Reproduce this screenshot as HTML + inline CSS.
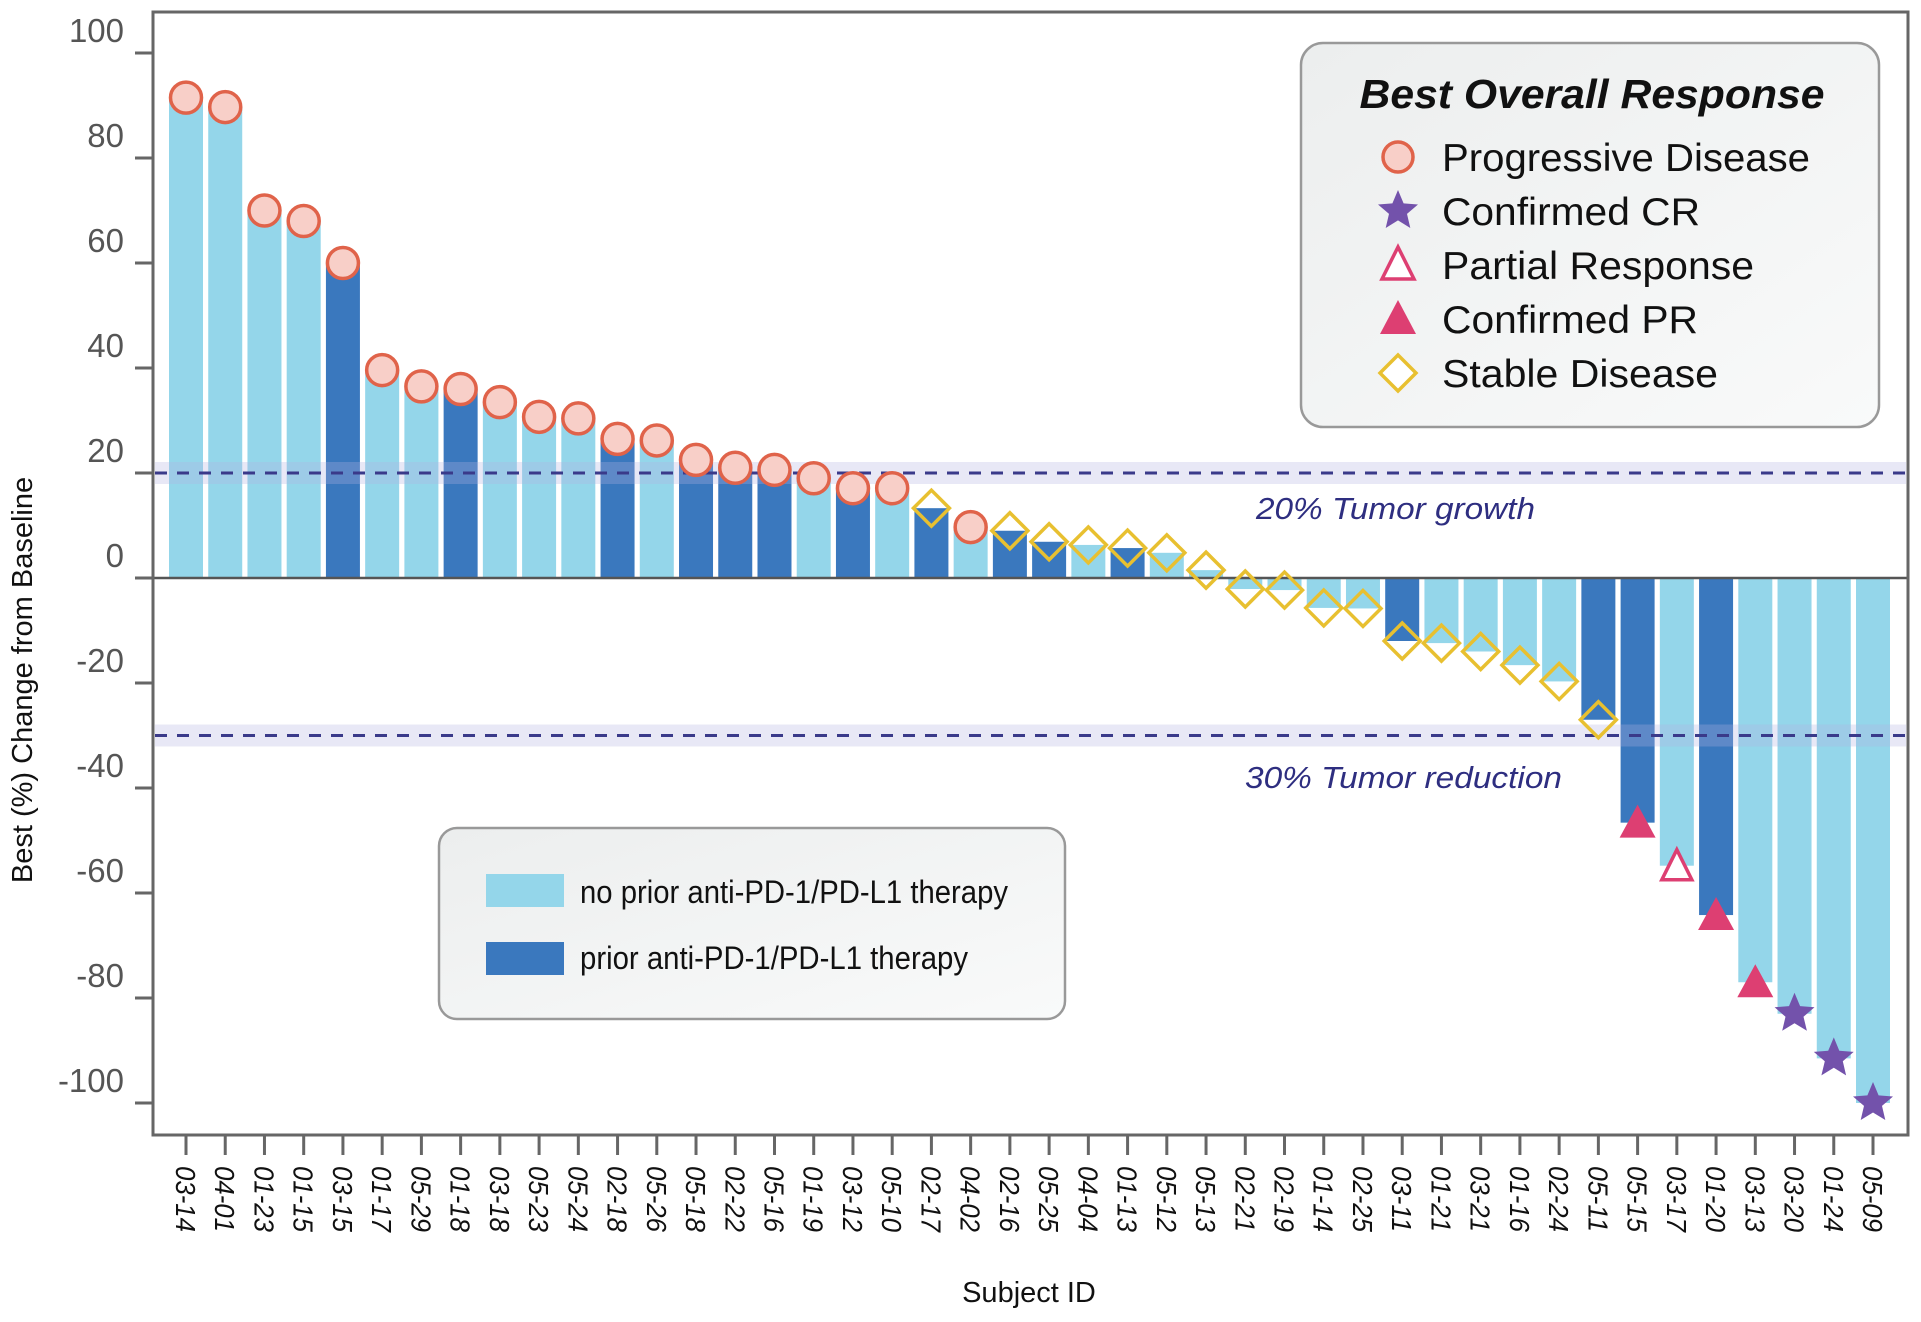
<!DOCTYPE html>
<html><head><meta charset="utf-8"><style>
html,body{margin:0;padding:0;background:#fff;}
svg{display:block;font-family:"Liberation Sans",Arial,sans-serif;}
</style></head><body>
<svg id="chart" width="1921" height="1322" viewBox="0 0 1921 1322" xmlns="http://www.w3.org/2000/svg">
<defs>
<linearGradient id="lg" x1="0" y1="0" x2="1" y2="1"><stop offset="0" stop-color="#eceeee"/><stop offset="1" stop-color="#f9fafa"/></linearGradient>
</defs>
<g id="bars"></g>
<g id="bands"></g>
<g id="markers"></g>
<rect x="153" y="12" width="1755" height="1123" fill="none" stroke="#666" stroke-width="3"/>
<g id="yaxis"></g>
<g id="xaxis"></g>
<text x="32" y="680" transform="rotate(-90 32 680)" text-anchor="middle" font-size="29" fill="#111">Best (%) Change from Baseline</text>
<text x="1029" y="1302" text-anchor="middle" font-size="29" fill="#111">Subject ID</text>
<text x="1256" y="519" font-size="31" font-style="italic" fill="#2e2e80" textLength="279" lengthAdjust="spacingAndGlyphs">20% Tumor growth</text>
<text x="1245" y="788" font-size="31" font-style="italic" fill="#2e2e80" textLength="317" lengthAdjust="spacingAndGlyphs">30% Tumor reduction</text>

<g>
<rect x="1301" y="43" width="578" height="384" rx="22" fill="url(#lg)" stroke="#999" stroke-width="2.5"/>
<text x="1592" y="108" text-anchor="middle" font-size="41" font-weight="bold" font-style="italic" fill="#111" textLength="465" lengthAdjust="spacingAndGlyphs">Best Overall Response</text>
<g><circle cx="1398" cy="157" r="15" fill="#f8cfc8" stroke="#e0634a" stroke-width="3.5"/><text x="1442" y="171" font-size="39" fill="#111" textLength="368" lengthAdjust="spacingAndGlyphs">Progressive Disease</text></g>
<g><polygon id="lstar" fill="#7352ab"/><text x="1442" y="225" font-size="39" fill="#111" textLength="258" lengthAdjust="spacingAndGlyphs">Confirmed CR</text></g>
<g><polygon points="1398,247 1414,279 1382,279" fill="#fff" stroke="#dd3f72" stroke-width="3.5"/><text x="1442" y="279" font-size="39" fill="#111" textLength="312" lengthAdjust="spacingAndGlyphs">Partial Response</text></g>
<g><polygon points="1398,300 1416,334 1380,334" fill="#dd3f72"/><text x="1442" y="333" font-size="39" fill="#111" textLength="256" lengthAdjust="spacingAndGlyphs">Confirmed PR</text></g>
<g><polygon points="1398,355 1416,373 1398,391 1380,373" fill="#fff" stroke="#e8c030" stroke-width="3.5"/><text x="1442" y="387" font-size="39" fill="#111" textLength="276" lengthAdjust="spacingAndGlyphs">Stable Disease</text></g>
</g>

<g>
<rect x="439" y="828" width="626" height="191" rx="18" fill="url(#lg)" stroke="#999" stroke-width="2.5"/>
<rect x="486" y="874" width="78" height="33" fill="#94d6ea"/>
<text x="580" y="903" font-size="32" fill="#111" textLength="428" lengthAdjust="spacingAndGlyphs">no prior anti-PD-1/PD-L1 therapy</text>
<rect x="486" y="942" width="78" height="33" fill="#3a78be"/>
<text x="580" y="969" font-size="32" fill="#111" textLength="388" lengthAdjust="spacingAndGlyphs">prior anti-PD-1/PD-L1 therapy</text>
</g>
</svg>
<script>
const subjects = ["03-14","04-01","01-23","01-15","03-15","01-17","05-29","01-18","03-18","05-23","05-24","02-18","05-26","05-18","02-22","05-16","01-19","03-12","05-10","02-17","04-02","02-16","05-25","04-04","01-13","05-12","05-13","02-21","02-19","01-14","02-25","03-11","01-21","03-21","01-16","02-24","05-11","05-15","03-17","01-20","03-13","03-20","01-24","05-09"];
const changes = [91.5,89.7,70,68,60,39.6,36.5,36,33.5,30.7,30.4,26.5,26.2,22.5,21,20.6,19,17.1,17.1,13.3,9.7,9,6.9,6.3,5.7,4.8,1.5,-2.1,-2.3,-5.7,-5.8,-12,-12.4,-14,-16.6,-19.7,-27,-46.6,-54.8,-64.2,-77,-83,-91.5,-100];
const priorTherapy = [0,0,0,0,1,0,0,1,0,0,0,1,0,1,1,1,0,1,0,1,0,1,1,0,1,0,0,0,0,0,0,1,0,0,0,0,1,1,0,1,0,0,0,0];
const responses = ["PD","PD","PD","PD","PD","PD","PD","PD","PD","PD","PD","PD","PD","PD","PD","PD","PD","PD","PD","SD","PD","SD","SD","SD","SD","SD","SD","SD","SD","SD","SD","SD","SD","SD","SD","SD","SD","CPR","PR","CPR","CPR","CR","CR","CR"];
const yTicks = [100,80,60,40,20,0,-20,-40,-60,-80,-100];
const thresholds = [20,-30];

const NS="http://www.w3.org/2000/svg";
const y0=578, pxPerUnit=5.25, x0=186, step=(1873-186)/43, bw=34;
const yScale=v=>y0-v*pxPerUnit;
const xScale=i=>x0+i*step;
function mk(tag,attrs,parent){const e=document.createElementNS(NS,tag);for(const k in attrs)e.setAttribute(k,attrs[k]);parent.appendChild(e);return e;}
function starPts(cx,cy,R){const r=R*0.45;let p=[];for(let k=0;k<10;k++){const a=-Math.PI/2+k*Math.PI/5;const rr=k%2?r:R;p.push((cx+rr*Math.cos(a)).toFixed(1)+","+(cy+rr*Math.sin(a)).toFixed(1));}return p.join(" ");}
document.getElementById('lstar').setAttribute('points',starPts(1398,211,21));

const gb=document.getElementById('bars'), gm=document.getElementById('markers'), gband=document.getElementById('bands');
const gy=document.getElementById('yaxis'), gx=document.getElementById('xaxis');

changes.forEach((v,i)=>{
  const x=xScale(i), y=yScale(v);
  const r=mk('rect',{x:x-bw/2,y:Math.min(y,y0),width:bw,height:Math.abs(y-y0),fill:priorTherapy[i]?'#3a78be':'#94d6ea'},gb);
  
  
  const t=responses[i]; let m;
  if(t==='PD') m=mk('circle',{cx:x,cy:y,r:15.5,fill:'#f8cfc8',stroke:'#e0634a','stroke-width':3.5},gm);
  else if(t==='SD') m=mk('polygon',{points:`${x},${y-18} ${x+18},${y} ${x},${y+18} ${x-18},${y}`,fill:'none',stroke:'#e8c030','stroke-width':3.5},gm);
  else if(t==='PR') m=mk('polygon',{points:`${x},${y-16} ${x+15},${y+14} ${x-15},${y+14}`,fill:'#fff',stroke:'#dd3f72','stroke-width':3.5},gm);
  else if(t==='CPR') m=mk('polygon',{points:`${x},${y-18} ${x+18},${y+15} ${x-18},${y+15}`,fill:'#dd3f72'},gm);
  else m=mk('polygon',{points:starPts(x,y,21),fill:'#7352ab'},gm);
  
  
  const tk=mk('line',{x1:x,y1:1135,x2:x,y2:1155,stroke:'#666','stroke-width':3},gx);
  
  
  const lb=mk('text',{x:0,y:0,transform:`translate(${x-10},1166) rotate(90)`,'font-size':28,'font-style':'italic',fill:'#111',textLength:66,lengthAdjust:'spacingAndGlyphs'},gx);
  lb.textContent=subjects[i];
  
  
});

thresholds.forEach(v=>{
  const y=yScale(v);
  const b=mk('rect',{x:155,y:y-11,width:1751,height:22,fill:'rgb(180,180,225)','fill-opacity':0.3},gband);
  
  
  const l=mk('line',{x1:155,y1:y,x2:1906,y2:y,stroke:'#3a3a8a','stroke-width':3,'stroke-dasharray':'12 10'},gband);
  
  
});
const zl=mk('line',{x1:153,y1:y0,x2:1908,y2:y0,stroke:'#555','stroke-width':2.5},gband);



yTicks.forEach(v=>{
  const y=yScale(v);
  const t=mk('line',{x1:135,y1:y,x2:153,y2:y,stroke:'#666','stroke-width':3},gy);
  
  
  const l=mk('text',{x:124,y:y-11,'text-anchor':'end','font-size':33,fill:'#555'},gy);
  l.textContent=v;
  
  
});
</script>
</body></html>
